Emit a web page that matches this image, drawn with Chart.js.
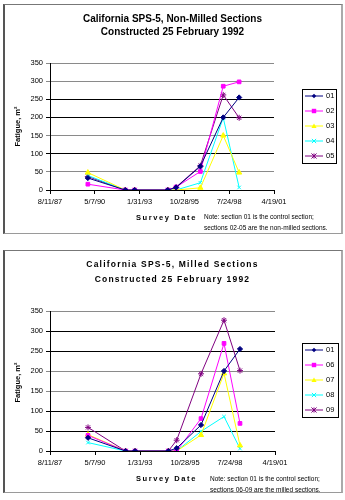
<!DOCTYPE html>
<html>
<head>
<meta charset="utf-8">
<script src="https://cdn.jsdelivr.net/npm/chart.js@4.4.0/dist/chart.umd.min.js"></script>
<style>
  html, body { margin: 0; padding: 0; background: #fff; }
  body { width: 345px; height: 500px; position: relative; overflow: hidden; font-family: "Liberation Sans", Arial, sans-serif; color: #000; }
  .frame { position: absolute; box-sizing: border-box; border: 1px solid #9a9a9a; border-left: 2px solid #555; border-top: 1px solid #777; border-right: 2px solid #aaa; }
  canvas { position: absolute; }
  .txt { position: absolute; white-space: nowrap; }
  .title { font-weight: bold; font-size: 10px; text-align: center; width: 345px; left: 0; }
  .title2 { letter-spacing: 1.2px; font-size: 8.5px; }
  .ytitle { font-weight: bold; font-size: 7.5px; transform: rotate(-90deg); transform-origin: center; }
  .xtitle { font-weight: bold; font-size: 7.5px; letter-spacing: 1.6px; }
  .note { font-size: 6.5px; line-height: 11px; }
</style>
</head>
<body>
<div class="frame" style="left:3px; top:4px; width:340px; height:230px;"></div>
<div class="frame" style="left:3px; top:250px; width:340px; height:243px;"></div>

<canvas id="chartTop" width="337" height="228" style="left:4px; top:5px;"></canvas>
<canvas id="chartBottom" width="337" height="240" style="left:4px; top:251px;"></canvas>

<div class="txt title" style="top:13px;">California SPS-5, Non-Milled Sections</div>
<div class="txt title" style="top:26px;">Constructed 25 February 1992</div>
<div class="txt ytitle" style="left:-3px; top:122px;">Fatigue, m²</div>
<div class="txt xtitle" style="left:136px; top:213px;">Survey Date</div>
<div class="txt note" style="left:204px; top:211px;">Note: section 01 is the control section;<br>sections 02-05 are the non-milled sections.</div>

<div class="txt title title2" style="top:259px;">California SPS-5, Milled Sections</div>
<div class="txt title title2" style="top:274px;">Constructed 25 February 1992</div>
<div class="txt ytitle" style="left:-3px; top:378px;">Fatigue, m²</div>
<div class="txt xtitle" style="left:136px; top:474px;">Survey Date</div>
<div class="txt note" style="left:210px; top:473px;">Note: section 01 is the control section;<br>sections 06-09 are the milled sections.</div>

<script>
// Dates are Excel serial day numbers
const surveyDates = [32845, 33680, 33890, 34630, 34815, 35356, 35867, 36222];
const tickValues = [32000, 33000, 34000, 35000, 36000, 37000];
const tickLabels = ['8/11/87', '5/7/90', '1/31/93', '10/28/95', '7/24/98', '4/19/01'];
const yTicks = [0, 50, 100, 150, 200, 250, 300, 350];

// non-milled sections
const sec01 = [33, 0, 0, 0, 7, 65, 200, 255];
const sec02 = [16, 0, 0, 0, 8, 51, 286, 298];
const sec03 = [48, 0, 0, 0, 0, 6, 150, 48];
const sec04 = [40, 0, 0, 0, 0, 20, 199, 7];
const sec05 = [37, 0, 0, 0, 8, 67, 262, 199];

// milled sections
const sec06 = [39, 0, 0, 0, 0, 81, 269, 69];
const sec07 = [41, 0, 0, 0, 0, 40, 194, 14];
const sec08 = [21, 0, 0, 0, 0, 49, 86, 6];
const sec09 = [59, 0, 0, 0, 27, 193, 327, 201];

const topLabels = ['01', '02', '03', '04', '05'];
const bottomLabels = ['01', '06', '07', '08', '09'];

const seriesStyles = [
    { color: '#000080', point: 'rectRot', r: 2.6 },
    { color: '#ff00ff', point: 'rect', r: 2.6 },
    { color: '#ffff00', point: 'triangle', r: 3 },
    { color: '#00ffff', point: 'crossRot', r: 2.5 },
    { color: '#800080', point: 'star', r: 3 }
];

function toPoints(values) {
    return values.map((v, i) => ({ x: surveyDates[i], y: v }));
}

function drawMarker(ctx, style, x, y, r, color) {
    ctx.save();
    ctx.fillStyle = color;
    ctx.strokeStyle = color;
    ctx.lineWidth = 1;
    ctx.beginPath();
    if (style === 'rectRot') {
        ctx.moveTo(x, y - r); ctx.lineTo(x + r, y); ctx.lineTo(x, y + r); ctx.lineTo(x - r, y);
        ctx.closePath(); ctx.fill();
    } else if (style === 'rect') {
        ctx.fillRect(x - r, y - r, 2 * r, 2 * r);
    } else if (style === 'triangle') {
        ctx.moveTo(x, y - r); ctx.lineTo(x + r, y + r * 0.8); ctx.lineTo(x - r, y + r * 0.8);
        ctx.closePath(); ctx.fill();
    } else if (style === 'crossRot') {
        ctx.moveTo(x - r, y - r); ctx.lineTo(x + r, y + r);
        ctx.moveTo(x + r, y - r); ctx.lineTo(x - r, y + r); ctx.stroke();
    } else if (style === 'star') {
        ctx.moveTo(x - r, y - r); ctx.lineTo(x + r, y + r);
        ctx.moveTo(x + r, y - r); ctx.lineTo(x - r, y + r);
        ctx.moveTo(x, y - r); ctx.lineTo(x, y + r); ctx.stroke();
    }
    ctx.restore();
}

// boxed Excel-style legend drawn next to the plot
const boxLegend = {
    id: 'boxLegend',
    afterDraw(chart, args, opts) {
        const ctx = chart.ctx;
        const area = chart.chartArea;
        const x0 = area.right + opts.dx;
        const y0 = opts.top;
        ctx.save();
        ctx.strokeStyle = '#000';
        ctx.lineWidth = 1;
        ctx.strokeRect(x0 + 0.5, y0 + 0.5, opts.w, opts.h);
        ctx.font = '7.5px "Liberation Sans", Arial, sans-serif';
        ctx.textBaseline = 'middle';
        ctx.fillStyle = '#000';
        chart.data.datasets.forEach((ds, i) => {
            const y = y0 + opts.first + i * opts.step;
            const st = seriesStyles[i];
            ctx.strokeStyle = st.color;
            ctx.beginPath();
            ctx.moveTo(x0 + 3, y);
            ctx.lineTo(x0 + 21, y);
            ctx.stroke();
            drawMarker(ctx, st.point, x0 + 12, y, st.r * 0.85, st.color);
            ctx.fillStyle = '#000';
            ctx.fillText(ds.label, x0 + 24, y);
        });
        ctx.restore();
    }
};

function makeChart(id, labels, seriesList, pad, darkGrid, legendOpts) {
    const datasets = seriesList.map((values, i) => ({
        label: labels[i],
        data: toPoints(values),
        borderColor: seriesStyles[i].color,
        backgroundColor: seriesStyles[i].color,
        borderWidth: 1,
        pointStyle: seriesStyles[i].point,
        pointRadius: seriesStyles[i].r,
        pointBorderWidth: 1,
        tension: 0
    }));

    return new Chart(document.getElementById(id), {
        type: 'line',
        data: { datasets: datasets },
        options: {
            responsive: false,
            animation: false,
            devicePixelRatio: 1,
            layout: { padding: { top: pad.top, right: pad.right, left: 0, bottom: 0 } },
            plugins: {
                legend: { display: false },
                tooltip: { enabled: false },
                boxLegend: legendOpts
            },
            scales: {
                x: {
                    type: 'linear',
                    min: tickValues[0],
                    max: tickValues[tickValues.length - 1],
                    afterBuildTicks: scale => { scale.ticks = tickValues.map(v => ({ value: v })); },
                    afterFit: scale => { scale.height = pad.bottom; },
                    border: { color: '#000', width: 1 },
                    grid: { drawOnChartArea: false, tickLength: 4, color: '#000' },
                    ticks: {
                        autoSkip: false,
                        maxRotation: 0,
                        padding: 3,
                        color: '#000',
                        font: { family: '"Liberation Sans", Arial, sans-serif', size: 7.5 },
                        callback: value => tickLabels[tickValues.indexOf(value)]
                    }
                },
                y: {
                    min: 0,
                    max: 350,
                    afterBuildTicks: scale => { scale.ticks = yTicks.map(v => ({ value: v })); },
                    afterFit: scale => { scale.width = pad.left; },
                    border: { color: '#000', width: 1 },
                    grid: {
                        tickLength: 4,
                        color: ctx => darkGrid.includes(ctx.tick.value) ? '#000' : '#8a8a8a'
                    },
                    ticks: {
                        padding: 3,
                        color: '#000',
                        font: { family: '"Liberation Sans", Arial, sans-serif', size: 7.5 }
                    }
                }
            }
        },
        plugins: [boxLegend]
    });
}

makeChart('chartTop', topLabels, [sec01, sec02, sec03, sec04, sec05],
    { top: 58, right: 67, left: 46, bottom: 43 },
    [0, 100, 200, 250],
    { dx: 28, top: 84, w: 34, h: 74, first: 7, step: 15 });

makeChart('chartBottom', bottomLabels, [sec01, sec06, sec07, sec08, sec09],
    { top: 60, right: 66, left: 46, bottom: 40 },
    [0, 50, 100, 250, 300],
    { dx: 27, top: 92, w: 36, h: 74, first: 7, step: 15 });
</script>
</body>
</html>
